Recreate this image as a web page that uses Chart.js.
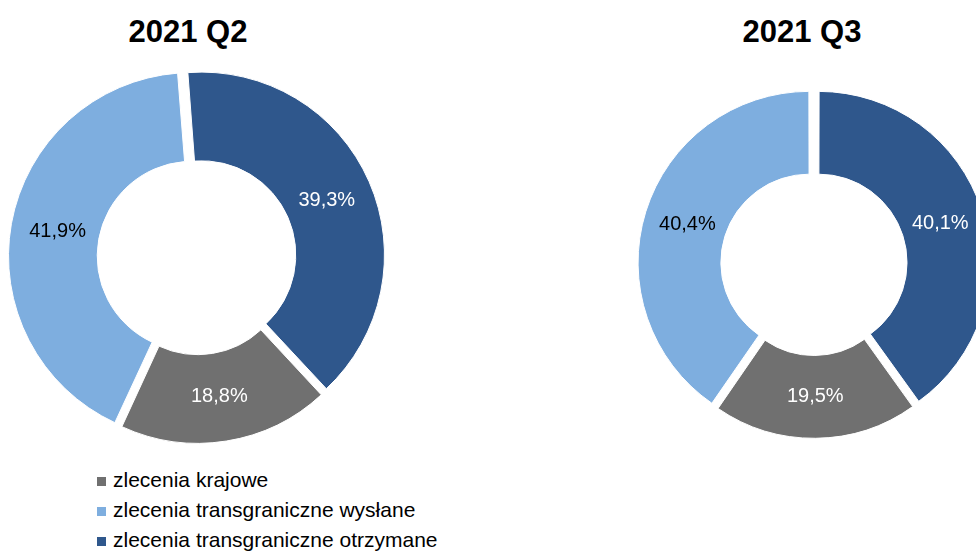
<!DOCTYPE html>
<html>
<head>
<meta charset="utf-8">
<script src="https://cdn.jsdelivr.net/npm/chart.js@4.4.0/dist/chart.umd.min.js"></script>
<style>
  html, body { margin: 0; padding: 0; background: #fff; }
  body { width: 976px; height: 552px; overflow: hidden; position: relative;
         font-family: "Liberation Sans", Arial, sans-serif; }
  .title { position: absolute; width: 240px; text-align: center; font-weight: bold;
           font-size: 31px; line-height: 36px; top: 14px; color: #000; }
  .wrap { position: absolute; width: 400px; height: 400px; }
  #legend { position: absolute; left: 97px; top: 465px; font-size: 21px; line-height: 30px; color: #000; }
  .item { white-space: nowrap; }
  .box { display: inline-block; width: 9px; height: 9px; margin-right: 7px; vertical-align: 1px; }
</style>
</head>
<body>
<div class="title" id="t0" style="left:68px"></div>
<div class="title" id="t1" style="left:682px"></div>
<div class="wrap" style="left:-3px; top:57px"><canvas id="myChart0" width="400" height="400"></canvas></div>
<div class="wrap" style="left:614px; top:64px"><canvas id="myChart1" width="400" height="400"></canvas></div>
<div id="legend"></div>
<script>
var categories = ['zlecenia krajowe', 'zlecenia transgraniczne wysłane', 'zlecenia transgraniczne otrzymane'];
var periods = ['2021 Q2', '2021 Q3'];
var q2Values = [18.8, 41.9, 39.3];
var q3Values = [19.5, 40.4, 40.1];
var sliceColors = ['#707070', '#7EAEDF', '#2F578C'];
var labelColors = ['#ffffff', '#000000', '#ffffff'];
// angle (deg from 12 o'clock) where the "otrzymane" slice starts
var firstSliceAngles = [-4.4, 0];

var sliceLabels = {
	id: 'sliceLabels',
	afterDatasetsDraw: function(chart) {
		var ctx = chart.ctx;
		var meta = chart.getDatasetMeta(0);
		var ds = chart.data.datasets[0];
		var shift = (ds.offset || 0) / 4;
		ctx.save();
		ctx.font = '20px "Liberation Sans", Arial, sans-serif';
		ctx.textAlign = 'center';
		ctx.textBaseline = 'middle';
		meta.data.forEach(function(arc, i) {
			var p = arc.getProps(['x', 'y', 'startAngle', 'endAngle', 'innerRadius', 'outerRadius'], true);
			var mid = (p.startAngle + p.endAngle) / 2;
			var r = (p.innerRadius + p.outerRadius) / 2 + shift;
			ctx.fillStyle = labelColors[i];
			ctx.fillText(ds.data[i].toFixed(1).replace('.', ',') + '%',
				p.x + Math.cos(mid) * r, p.y + Math.sin(mid) * r);
		});
		ctx.restore();
	}
};

function doughnut(iter, values, radius) {
	document.getElementById('t' + iter).textContent = periods[iter];
	var total = values[0] + values[1] + values[2];
	var rot = firstSliceAngles[iter] + 360 * values[2] / total;
	var ctx = document.getElementById('myChart' + iter).getContext('2d');
	return new Chart(ctx, {
		type: 'doughnut',
		data: {
			labels: categories,
			datasets: [{
				data: values,
				backgroundColor: sliceColors,
				borderColor: '#ffffff',
				borderWidth: 1,
				offset: 20
			}]
		},
		options: {
			responsive: false,
			animation: false,
			rotation: rot,
			radius: radius,
			cutout: '51%',
			plugins: { legend: { display: false }, tooltip: { enabled: false } }
		},
		plugins: [sliceLabels]
	});
}

doughnut(0, q2Values, 181);
doughnut(1, q3Values, 169);

var legend = document.getElementById('legend');
for (var i = 0; i < categories.length; i++) {
	var row = document.createElement('div');
	row.className = 'item';
	var box = document.createElement('span');
	box.className = 'box';
	box.style.background = sliceColors[i];
	row.appendChild(box);
	row.appendChild(document.createTextNode(categories[i]));
	legend.appendChild(row);
}
</script>
</body>
</html>
